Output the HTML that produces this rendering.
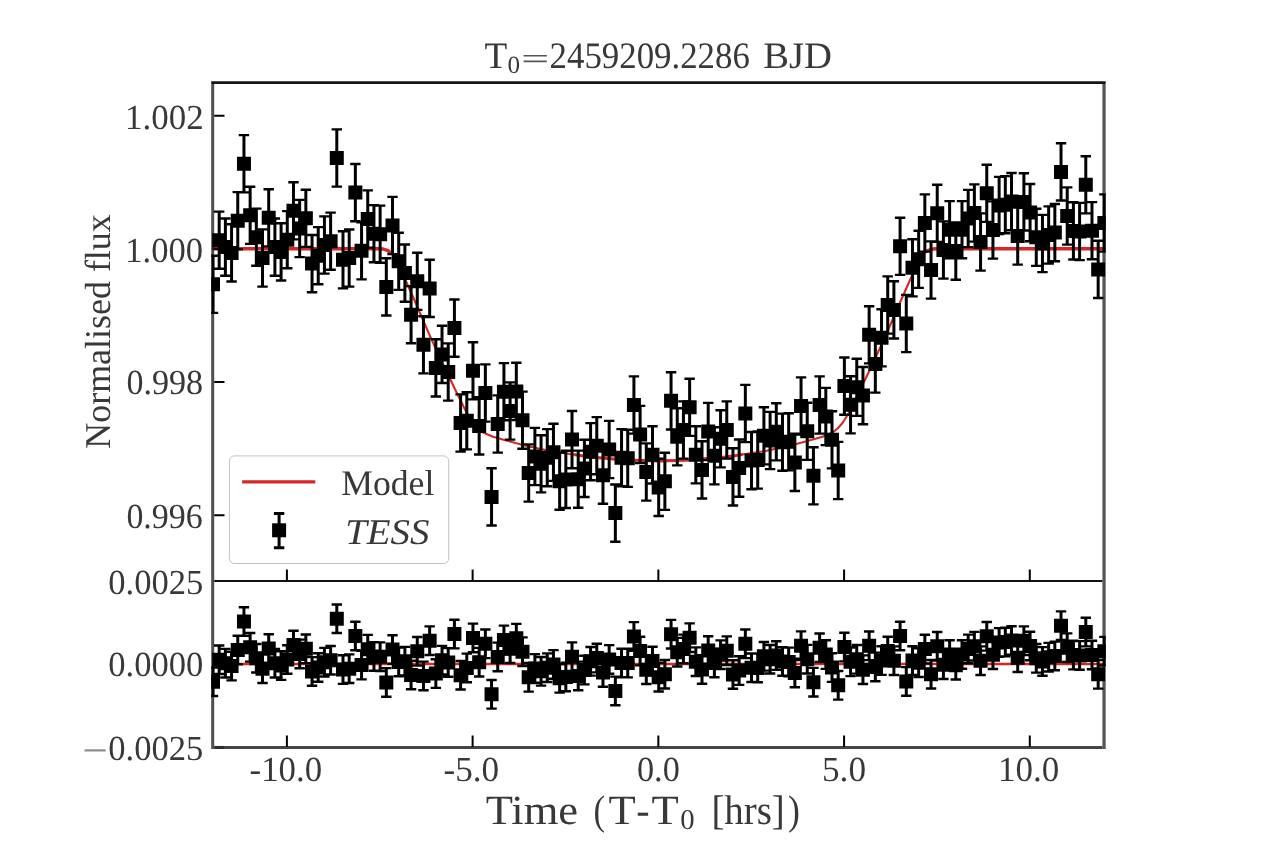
<!DOCTYPE html>
<html><head><meta charset="utf-8"><title>Transit light curve</title>
<style>html,body{margin:0;padding:0;background:#fff;width:1280px;height:852px;overflow:hidden;font-family:"Liberation Serif",serif;-webkit-font-smoothing:antialiased;}
svg text{-webkit-font-smoothing:antialiased;text-rendering:geometricPrecision;}</style>
</head><body>
<svg width="1280" height="852" viewBox="0 0 1280 852" style="position:absolute;left:0;top:0;will-change:transform;">
<defs>
<clipPath id="ct"><rect x="211.2" y="83.0" width="894.5" height="498.0"/></clipPath>
<clipPath id="cb"><rect x="211.2" y="581.0" width="894.5" height="166.0"/></clipPath>
</defs>
<rect width="1280" height="852" fill="#fff"/>
<g clip-path="url(#ct)" fill="none" stroke="#d62728" stroke-linejoin="round" stroke-linecap="round">
<path d="M212.70 248.70 L378.00 248.70 L383.00 249.00 L388.00 250.60 L393.00 255.00 L398.00 264.00 L402.00 272.50 L406.70 282.80 L417.00 306.00 L428.60 332.80 L441.00 360.00 L454.40 388.00 L466.90 413.20 L473.00 423.00 L478.00 428.50 L482.50 432.20 L493.00 436.80 L504.40 440.00 L524.70 445.50 L550.00 451.00 L590.00 457.00 L625.00 460.00 L658.35 461.00 L690.50 460.00 L725.50 457.00 L765.50 451.00 L790.80 445.50 L811.10 440.00 L822.50 436.80 L833.00 432.20 L837.50 428.50 L842.50 423.00 L848.60 413.20 L861.10 388.00 L874.50 360.00 L886.90 332.80 L898.50 306.00 L908.80 282.80 L913.50 272.50 L917.50 264.00 L922.50 255.00 L927.50 250.60 L932.50 249.00 L937.50 248.70 L1104.00 248.70" stroke-width="2.1"/>
<path d="M212.70 248.70 L378.00 248.70 L383.00 249.00 L388.00 250.60 L390.00 252.36" stroke-width="3.4" stroke-linecap="butt"/>
<path d="M926.70 251.30 L927.50 250.60 L932.50 249.00 L937.50 248.70 L1104.00 248.70" stroke-width="3.4" stroke-linecap="butt"/>
<path d="M575.00 454.75 L590.00 457.00 L625.00 460.00 L658.35 461.00 L690.50 460.00 L725.50 457.00 L741.70 454.57" stroke-width="2.9"/>
</g>
<path d="M212.7 664.0H1104.0" stroke="#d62728" stroke-width="2.6" fill="none"/>
<g clip-path="url(#ct)">
<path d="M213.00 255.70V312.90M219.19 211.60V268.80M225.38 218.50V275.70M231.57 224.30V281.50M237.76 192.10V249.30M243.95 135.15V192.35M250.14 186.70V243.90M256.33 208.60V265.80M262.52 229.40V286.60M268.71 189.20V246.40M274.90 218.50V275.70M281.09 223.30V280.50M287.28 211.10V268.30M293.47 182.20V239.40M299.66 199.90V257.10M305.85 189.70V246.90M312.04 235.00V292.20M318.23 227.10V284.30M324.42 216.40V273.60M330.61 212.60V269.80M336.80 129.40V186.60M342.99 231.20V288.40M349.18 229.45V286.65M355.37 164.00V221.20M361.56 222.20V279.40M367.75 190.40V247.60M373.94 205.10V262.30M380.13 205.60V262.80M386.32 258.30V315.50M392.51 196.90V254.10M398.70 232.70V289.90M404.89 244.50V301.70M411.08 286.10V343.30M417.27 252.70V309.90M423.46 316.20V373.40M429.65 259.80V317.00M435.84 339.30V396.50M442.03 325.80V383.00M448.22 343.40V400.60M454.41 299.50V356.70M460.60 394.40V451.60M466.79 392.20V449.40M472.98 342.20V399.40M479.17 397.30V454.50M485.36 364.40V421.60M491.55 468.30V525.50M497.74 395.40V452.60M503.93 363.10V420.30M510.12 382.40V439.60M516.31 362.80V420.00M522.50 391.60V448.80M528.69 444.40V501.60M534.88 427.90V485.10M541.07 435.20V492.40M547.26 429.10V486.30M553.45 423.70V480.90M559.64 452.60V509.80M565.83 450.80V508.00M572.02 411.00V468.20M578.21 450.60V507.80M584.40 439.80V497.00M590.59 423.10V480.30M596.78 417.10V474.30M602.97 446.60V503.80M609.16 420.90V478.10M615.35 484.50V541.70M621.54 429.10V486.30M627.73 429.70V486.90M633.92 376.40V433.60M640.11 405.90V463.10M646.30 443.40V500.60M652.49 426.25V483.45M658.68 458.80V516.00M664.87 452.70V509.90M671.06 372.25V429.45M677.25 408.20V465.40M683.44 401.40V458.60M689.63 378.70V435.90M695.82 426.20V483.40M702.01 441.30V498.50M708.20 402.90V460.10M714.39 427.20V484.40M720.58 410.20V467.40M726.77 401.40V458.60M732.96 448.30V505.50M739.15 439.50V496.70M745.34 384.90V442.10M751.53 432.00V489.20M757.72 431.40V488.60M763.91 407.20V464.40M770.10 411.90V469.10M776.29 403.20V460.40M782.48 413.60V470.80M788.67 413.20V470.40M794.86 433.80V491.00M801.05 377.40V434.60M807.24 402.70V459.90M813.43 447.20V504.40M819.62 376.40V433.60M825.81 387.90V445.10M832.00 411.20V468.40M838.19 441.90V499.10M844.38 357.50V414.70M850.57 376.20V433.40M856.76 358.70V415.90M862.95 367.00V424.20M869.14 306.20V363.40M875.33 335.40V392.60M881.52 309.20V366.40M887.71 276.40V333.60M893.90 281.30V338.50M900.09 217.70V274.90M906.28 294.90V352.10M912.47 239.20V296.40M918.66 230.70V287.90M924.85 194.40V251.60M931.04 241.40V298.60M937.23 184.70V241.90M943.42 221.40V278.60M949.61 201.10V258.30M955.80 222.50V279.70M961.99 201.10V258.30M968.18 189.90V247.10M974.37 184.40V241.60M980.56 213.40V270.60M986.75 164.70V221.90M992.94 201.40V258.60M999.13 176.90V234.10M1005.32 176.10V233.30M1011.51 173.00V230.20M1017.70 207.40V264.60M1023.89 173.30V230.50M1030.08 184.00V241.20M1036.27 208.70V265.90M1042.46 214.90V272.10M1048.65 206.40V263.60M1054.84 204.00V261.20M1061.03 143.30V200.50M1067.22 187.40V244.60M1073.41 202.30V259.50M1079.60 202.90V260.10M1085.79 156.20V213.40M1091.98 202.10V259.30M1098.17 240.80V298.00M1104.36 194.40V251.60" stroke="#000" stroke-width="3.0" fill="none"/>
<path d="M207.80 255.70h10.4M207.80 312.90h10.4M213.99 211.60h10.4M213.99 268.80h10.4M220.18 218.50h10.4M220.18 275.70h10.4M226.37 224.30h10.4M226.37 281.50h10.4M232.56 192.10h10.4M232.56 249.30h10.4M238.75 135.15h10.4M238.75 192.35h10.4M244.94 186.70h10.4M244.94 243.90h10.4M251.13 208.60h10.4M251.13 265.80h10.4M257.32 229.40h10.4M257.32 286.60h10.4M263.51 189.20h10.4M263.51 246.40h10.4M269.70 218.50h10.4M269.70 275.70h10.4M275.89 223.30h10.4M275.89 280.50h10.4M282.08 211.10h10.4M282.08 268.30h10.4M288.27 182.20h10.4M288.27 239.40h10.4M294.46 199.90h10.4M294.46 257.10h10.4M300.65 189.70h10.4M300.65 246.90h10.4M306.84 235.00h10.4M306.84 292.20h10.4M313.03 227.10h10.4M313.03 284.30h10.4M319.22 216.40h10.4M319.22 273.60h10.4M325.41 212.60h10.4M325.41 269.80h10.4M331.60 129.40h10.4M331.60 186.60h10.4M337.79 231.20h10.4M337.79 288.40h10.4M343.98 229.45h10.4M343.98 286.65h10.4M350.17 164.00h10.4M350.17 221.20h10.4M356.36 222.20h10.4M356.36 279.40h10.4M362.55 190.40h10.4M362.55 247.60h10.4M368.74 205.10h10.4M368.74 262.30h10.4M374.93 205.60h10.4M374.93 262.80h10.4M381.12 258.30h10.4M381.12 315.50h10.4M387.31 196.90h10.4M387.31 254.10h10.4M393.50 232.70h10.4M393.50 289.90h10.4M399.69 244.50h10.4M399.69 301.70h10.4M405.88 286.10h10.4M405.88 343.30h10.4M412.07 252.70h10.4M412.07 309.90h10.4M418.26 316.20h10.4M418.26 373.40h10.4M424.45 259.80h10.4M424.45 317.00h10.4M430.64 339.30h10.4M430.64 396.50h10.4M436.83 325.80h10.4M436.83 383.00h10.4M443.02 343.40h10.4M443.02 400.60h10.4M449.21 299.50h10.4M449.21 356.70h10.4M455.40 394.40h10.4M455.40 451.60h10.4M461.59 392.20h10.4M461.59 449.40h10.4M467.78 342.20h10.4M467.78 399.40h10.4M473.97 397.30h10.4M473.97 454.50h10.4M480.16 364.40h10.4M480.16 421.60h10.4M486.35 468.30h10.4M486.35 525.50h10.4M492.54 395.40h10.4M492.54 452.60h10.4M498.73 363.10h10.4M498.73 420.30h10.4M504.92 382.40h10.4M504.92 439.60h10.4M511.11 362.80h10.4M511.11 420.00h10.4M517.30 391.60h10.4M517.30 448.80h10.4M523.49 444.40h10.4M523.49 501.60h10.4M529.68 427.90h10.4M529.68 485.10h10.4M535.87 435.20h10.4M535.87 492.40h10.4M542.06 429.10h10.4M542.06 486.30h10.4M548.25 423.70h10.4M548.25 480.90h10.4M554.44 452.60h10.4M554.44 509.80h10.4M560.63 450.80h10.4M560.63 508.00h10.4M566.82 411.00h10.4M566.82 468.20h10.4M573.01 450.60h10.4M573.01 507.80h10.4M579.20 439.80h10.4M579.20 497.00h10.4M585.39 423.10h10.4M585.39 480.30h10.4M591.58 417.10h10.4M591.58 474.30h10.4M597.77 446.60h10.4M597.77 503.80h10.4M603.96 420.90h10.4M603.96 478.10h10.4M610.15 484.50h10.4M610.15 541.70h10.4M616.34 429.10h10.4M616.34 486.30h10.4M622.53 429.70h10.4M622.53 486.90h10.4M628.72 376.40h10.4M628.72 433.60h10.4M634.91 405.90h10.4M634.91 463.10h10.4M641.10 443.40h10.4M641.10 500.60h10.4M647.29 426.25h10.4M647.29 483.45h10.4M653.48 458.80h10.4M653.48 516.00h10.4M659.67 452.70h10.4M659.67 509.90h10.4M665.86 372.25h10.4M665.86 429.45h10.4M672.05 408.20h10.4M672.05 465.40h10.4M678.24 401.40h10.4M678.24 458.60h10.4M684.43 378.70h10.4M684.43 435.90h10.4M690.62 426.20h10.4M690.62 483.40h10.4M696.81 441.30h10.4M696.81 498.50h10.4M703.00 402.90h10.4M703.00 460.10h10.4M709.19 427.20h10.4M709.19 484.40h10.4M715.38 410.20h10.4M715.38 467.40h10.4M721.57 401.40h10.4M721.57 458.60h10.4M727.76 448.30h10.4M727.76 505.50h10.4M733.95 439.50h10.4M733.95 496.70h10.4M740.14 384.90h10.4M740.14 442.10h10.4M746.33 432.00h10.4M746.33 489.20h10.4M752.52 431.40h10.4M752.52 488.60h10.4M758.71 407.20h10.4M758.71 464.40h10.4M764.90 411.90h10.4M764.90 469.10h10.4M771.09 403.20h10.4M771.09 460.40h10.4M777.28 413.60h10.4M777.28 470.80h10.4M783.47 413.20h10.4M783.47 470.40h10.4M789.66 433.80h10.4M789.66 491.00h10.4M795.85 377.40h10.4M795.85 434.60h10.4M802.04 402.70h10.4M802.04 459.90h10.4M808.23 447.20h10.4M808.23 504.40h10.4M814.42 376.40h10.4M814.42 433.60h10.4M820.61 387.90h10.4M820.61 445.10h10.4M826.80 411.20h10.4M826.80 468.40h10.4M832.99 441.90h10.4M832.99 499.10h10.4M839.18 357.50h10.4M839.18 414.70h10.4M845.37 376.20h10.4M845.37 433.40h10.4M851.56 358.70h10.4M851.56 415.90h10.4M857.75 367.00h10.4M857.75 424.20h10.4M863.94 306.20h10.4M863.94 363.40h10.4M870.13 335.40h10.4M870.13 392.60h10.4M876.32 309.20h10.4M876.32 366.40h10.4M882.51 276.40h10.4M882.51 333.60h10.4M888.70 281.30h10.4M888.70 338.50h10.4M894.89 217.70h10.4M894.89 274.90h10.4M901.08 294.90h10.4M901.08 352.10h10.4M907.27 239.20h10.4M907.27 296.40h10.4M913.46 230.70h10.4M913.46 287.90h10.4M919.65 194.40h10.4M919.65 251.60h10.4M925.84 241.40h10.4M925.84 298.60h10.4M932.03 184.70h10.4M932.03 241.90h10.4M938.22 221.40h10.4M938.22 278.60h10.4M944.41 201.10h10.4M944.41 258.30h10.4M950.60 222.50h10.4M950.60 279.70h10.4M956.79 201.10h10.4M956.79 258.30h10.4M962.98 189.90h10.4M962.98 247.10h10.4M969.17 184.40h10.4M969.17 241.60h10.4M975.36 213.40h10.4M975.36 270.60h10.4M981.55 164.70h10.4M981.55 221.90h10.4M987.74 201.40h10.4M987.74 258.60h10.4M993.93 176.90h10.4M993.93 234.10h10.4M1000.12 176.10h10.4M1000.12 233.30h10.4M1006.31 173.00h10.4M1006.31 230.20h10.4M1012.50 207.40h10.4M1012.50 264.60h10.4M1018.69 173.30h10.4M1018.69 230.50h10.4M1024.88 184.00h10.4M1024.88 241.20h10.4M1031.07 208.70h10.4M1031.07 265.90h10.4M1037.26 214.90h10.4M1037.26 272.10h10.4M1043.45 206.40h10.4M1043.45 263.60h10.4M1049.64 204.00h10.4M1049.64 261.20h10.4M1055.83 143.30h10.4M1055.83 200.50h10.4M1062.02 187.40h10.4M1062.02 244.60h10.4M1068.21 202.30h10.4M1068.21 259.50h10.4M1074.40 202.90h10.4M1074.40 260.10h10.4M1080.59 156.20h10.4M1080.59 213.40h10.4M1086.78 202.10h10.4M1086.78 259.30h10.4M1092.97 240.80h10.4M1092.97 298.00h10.4M1099.16 194.40h10.4M1099.16 251.60h10.4" stroke="#000" stroke-width="2.4" fill="none"/>
<path d="M206.00 277.30h14.0v14.0h-14.0zM212.19 233.20h14.0v14.0h-14.0zM218.38 240.10h14.0v14.0h-14.0zM224.57 245.90h14.0v14.0h-14.0zM230.76 213.70h14.0v14.0h-14.0zM236.95 156.75h14.0v14.0h-14.0zM243.14 208.30h14.0v14.0h-14.0zM249.33 230.20h14.0v14.0h-14.0zM255.52 251.00h14.0v14.0h-14.0zM261.71 210.80h14.0v14.0h-14.0zM267.90 240.10h14.0v14.0h-14.0zM274.09 244.90h14.0v14.0h-14.0zM280.28 232.70h14.0v14.0h-14.0zM286.47 203.80h14.0v14.0h-14.0zM292.66 221.50h14.0v14.0h-14.0zM298.85 211.30h14.0v14.0h-14.0zM305.04 256.60h14.0v14.0h-14.0zM311.23 248.70h14.0v14.0h-14.0zM317.42 238.00h14.0v14.0h-14.0zM323.61 234.20h14.0v14.0h-14.0zM329.80 151.00h14.0v14.0h-14.0zM335.99 252.80h14.0v14.0h-14.0zM342.18 251.05h14.0v14.0h-14.0zM348.37 185.60h14.0v14.0h-14.0zM354.56 243.80h14.0v14.0h-14.0zM360.75 212.00h14.0v14.0h-14.0zM366.94 226.70h14.0v14.0h-14.0zM373.13 227.20h14.0v14.0h-14.0zM379.32 279.90h14.0v14.0h-14.0zM385.51 218.50h14.0v14.0h-14.0zM391.70 254.30h14.0v14.0h-14.0zM397.89 266.10h14.0v14.0h-14.0zM404.08 307.70h14.0v14.0h-14.0zM410.27 274.30h14.0v14.0h-14.0zM416.46 337.80h14.0v14.0h-14.0zM422.65 281.40h14.0v14.0h-14.0zM428.84 360.90h14.0v14.0h-14.0zM435.03 347.40h14.0v14.0h-14.0zM441.22 365.00h14.0v14.0h-14.0zM447.41 321.10h14.0v14.0h-14.0zM453.60 416.00h14.0v14.0h-14.0zM459.79 413.80h14.0v14.0h-14.0zM465.98 363.80h14.0v14.0h-14.0zM472.17 418.90h14.0v14.0h-14.0zM478.36 386.00h14.0v14.0h-14.0zM484.55 489.90h14.0v14.0h-14.0zM490.74 417.00h14.0v14.0h-14.0zM496.93 384.70h14.0v14.0h-14.0zM503.12 404.00h14.0v14.0h-14.0zM509.31 384.40h14.0v14.0h-14.0zM515.50 413.20h14.0v14.0h-14.0zM521.69 466.00h14.0v14.0h-14.0zM527.88 449.50h14.0v14.0h-14.0zM534.07 456.80h14.0v14.0h-14.0zM540.26 450.70h14.0v14.0h-14.0zM546.45 445.30h14.0v14.0h-14.0zM552.64 474.20h14.0v14.0h-14.0zM558.83 472.40h14.0v14.0h-14.0zM565.02 432.60h14.0v14.0h-14.0zM571.21 472.20h14.0v14.0h-14.0zM577.40 461.40h14.0v14.0h-14.0zM583.59 444.70h14.0v14.0h-14.0zM589.78 438.70h14.0v14.0h-14.0zM595.97 468.20h14.0v14.0h-14.0zM602.16 442.50h14.0v14.0h-14.0zM608.35 506.10h14.0v14.0h-14.0zM614.54 450.70h14.0v14.0h-14.0zM620.73 451.30h14.0v14.0h-14.0zM626.92 398.00h14.0v14.0h-14.0zM633.11 427.50h14.0v14.0h-14.0zM639.30 465.00h14.0v14.0h-14.0zM645.49 447.85h14.0v14.0h-14.0zM651.68 480.40h14.0v14.0h-14.0zM657.87 474.30h14.0v14.0h-14.0zM664.06 393.85h14.0v14.0h-14.0zM670.25 429.80h14.0v14.0h-14.0zM676.44 423.00h14.0v14.0h-14.0zM682.63 400.30h14.0v14.0h-14.0zM688.82 447.80h14.0v14.0h-14.0zM695.01 462.90h14.0v14.0h-14.0zM701.20 424.50h14.0v14.0h-14.0zM707.39 448.80h14.0v14.0h-14.0zM713.58 431.80h14.0v14.0h-14.0zM719.77 423.00h14.0v14.0h-14.0zM725.96 469.90h14.0v14.0h-14.0zM732.15 461.10h14.0v14.0h-14.0zM738.34 406.50h14.0v14.0h-14.0zM744.53 453.60h14.0v14.0h-14.0zM750.72 453.00h14.0v14.0h-14.0zM756.91 428.80h14.0v14.0h-14.0zM763.10 433.50h14.0v14.0h-14.0zM769.29 424.80h14.0v14.0h-14.0zM775.48 435.20h14.0v14.0h-14.0zM781.67 434.80h14.0v14.0h-14.0zM787.86 455.40h14.0v14.0h-14.0zM794.05 399.00h14.0v14.0h-14.0zM800.24 424.30h14.0v14.0h-14.0zM806.43 468.80h14.0v14.0h-14.0zM812.62 398.00h14.0v14.0h-14.0zM818.81 409.50h14.0v14.0h-14.0zM825.00 432.80h14.0v14.0h-14.0zM831.19 463.50h14.0v14.0h-14.0zM837.38 379.10h14.0v14.0h-14.0zM843.57 397.80h14.0v14.0h-14.0zM849.76 380.30h14.0v14.0h-14.0zM855.95 388.60h14.0v14.0h-14.0zM862.14 327.80h14.0v14.0h-14.0zM868.33 357.00h14.0v14.0h-14.0zM874.52 330.80h14.0v14.0h-14.0zM880.71 298.00h14.0v14.0h-14.0zM886.90 302.90h14.0v14.0h-14.0zM893.09 239.30h14.0v14.0h-14.0zM899.28 316.50h14.0v14.0h-14.0zM905.47 260.80h14.0v14.0h-14.0zM911.66 252.30h14.0v14.0h-14.0zM917.85 216.00h14.0v14.0h-14.0zM924.04 263.00h14.0v14.0h-14.0zM930.23 206.30h14.0v14.0h-14.0zM936.42 243.00h14.0v14.0h-14.0zM942.61 222.70h14.0v14.0h-14.0zM948.80 244.10h14.0v14.0h-14.0zM954.99 222.70h14.0v14.0h-14.0zM961.18 211.50h14.0v14.0h-14.0zM967.37 206.00h14.0v14.0h-14.0zM973.56 235.00h14.0v14.0h-14.0zM979.75 186.30h14.0v14.0h-14.0zM985.94 223.00h14.0v14.0h-14.0zM992.13 198.50h14.0v14.0h-14.0zM998.32 197.70h14.0v14.0h-14.0zM1004.51 194.60h14.0v14.0h-14.0zM1010.70 229.00h14.0v14.0h-14.0zM1016.89 194.90h14.0v14.0h-14.0zM1023.08 205.60h14.0v14.0h-14.0zM1029.27 230.30h14.0v14.0h-14.0zM1035.46 236.50h14.0v14.0h-14.0zM1041.65 228.00h14.0v14.0h-14.0zM1047.84 225.60h14.0v14.0h-14.0zM1054.03 164.90h14.0v14.0h-14.0zM1060.22 209.00h14.0v14.0h-14.0zM1066.41 223.90h14.0v14.0h-14.0zM1072.60 224.50h14.0v14.0h-14.0zM1078.79 177.80h14.0v14.0h-14.0zM1084.98 223.70h14.0v14.0h-14.0zM1091.17 262.40h14.0v14.0h-14.0zM1097.36 216.00h14.0v14.0h-14.0z" fill="#000"/>
</g>
<g clip-path="url(#cb)">
<path d="M213.00 667.46V696.06M219.19 645.46V674.06M225.38 648.90V677.50M231.57 651.80V680.40M237.76 635.73V664.33M243.95 607.32V635.92M250.14 633.04V661.64M256.33 643.96V672.56M262.52 654.34V682.94M268.71 634.28V662.88M274.90 648.90V677.50M281.09 651.30V679.90M287.28 645.21V673.81M293.47 630.79V659.39M299.66 639.62V668.22M305.85 634.53V663.13M312.04 657.13V685.73M318.23 653.19V681.79M324.42 647.85V676.45M330.61 645.96V674.56M336.80 604.45V633.05M342.99 655.24V683.84M349.18 654.36V682.96M355.37 621.71V650.31M361.56 650.75V679.35M367.75 634.88V663.48M373.94 642.22V670.82M380.13 642.40V671.00M386.32 668.08V696.68M392.51 635.20V663.80M398.70 647.61V676.21M404.89 646.84V675.44M411.08 660.69V689.29M417.27 637.07V665.67M423.46 661.61V690.21M429.65 626.40V655.00M435.84 659.29V687.89M442.03 645.83V674.43M448.22 648.16V676.76M454.41 619.81V648.41M460.60 660.93V689.53M466.79 653.60V682.20M472.98 623.67V652.27M479.17 647.92V676.52M485.36 629.52V658.12M491.55 680.00V708.60M497.74 642.65V671.25M503.93 625.67V654.27M510.12 634.46V663.06M516.31 623.84V652.44M522.50 637.38V665.98M528.69 662.99V691.59M534.88 654.08V682.68M541.07 657.05V685.65M547.26 653.34V681.94M553.45 650.09V678.69M559.64 664.04V692.64M565.83 662.68V691.28M572.02 642.37V670.97M578.21 661.66V690.26M584.40 655.81V684.41M590.59 647.03V675.63M596.78 643.77V672.37M602.97 658.22V686.82M609.16 645.14V673.74M615.35 676.60V705.20M621.54 648.70V677.30M627.73 648.81V677.41M633.92 622.13V650.73M640.11 636.75V665.35M646.30 655.37V683.97M652.49 646.72V675.32M658.68 662.88V691.48M664.87 659.93V688.53M671.06 619.89V648.49M677.25 637.92V666.52M683.44 634.62V663.22M689.63 623.40V652.00M695.82 647.33V675.93M702.01 655.13V683.73M708.20 636.24V664.84M714.39 648.63V677.23M720.58 640.41V669.01M726.77 636.33V664.93M732.96 660.19V688.79M739.15 656.26V684.86M745.34 629.48V658.08M751.53 653.44V682.04M757.72 653.61V682.21M763.91 642.00V670.60M770.10 644.96V673.56M776.29 641.29V669.89M782.48 647.15V675.75M788.67 647.62V676.22M794.86 658.68V687.28M801.05 631.38V659.98M807.24 644.84V673.44M813.43 667.89V696.49M819.62 633.43V662.03M825.81 640.30V668.90M832.00 653.27V681.87M838.19 671.03V699.63M844.38 632.80V661.40M850.57 647.49V676.09M856.76 644.99V673.59M862.95 655.42V684.02M869.14 631.54V660.14M875.33 652.60V681.20M881.52 646.31V674.91M887.71 636.76V665.36M893.90 646.34V674.94M900.09 621.70V650.30M906.28 667.17V695.77M912.47 646.23V674.83M918.66 648.40V677.00M924.85 634.77V663.37M931.04 659.94V688.54M937.23 632.03V660.63M943.42 650.35V678.95M949.61 640.22V668.82M955.80 650.90V679.50M961.99 640.22V668.82M968.18 634.63V663.23M974.37 631.89V660.49M980.56 646.36V674.96M986.75 622.06V650.66M992.94 640.37V668.97M999.13 628.15V656.75M1005.32 627.75V656.35M1011.51 626.20V654.80M1017.70 643.36V671.96M1023.89 626.35V654.95M1030.08 631.69V660.29M1036.27 644.01V672.61M1042.46 647.11V675.71M1048.65 642.87V671.47M1054.84 641.67V670.27M1061.03 611.39V639.99M1067.22 633.39V661.99M1073.41 640.82V669.42M1079.60 641.12V669.72M1085.79 617.82V646.42M1091.98 640.72V669.32M1098.17 660.03V688.63M1104.36 636.88V665.48" stroke="#000" stroke-width="3.0" fill="none"/>
<path d="M207.80 667.46h10.4M207.80 696.06h10.4M213.99 645.46h10.4M213.99 674.06h10.4M220.18 648.90h10.4M220.18 677.50h10.4M226.37 651.80h10.4M226.37 680.40h10.4M232.56 635.73h10.4M232.56 664.33h10.4M238.75 607.32h10.4M238.75 635.92h10.4M244.94 633.04h10.4M244.94 661.64h10.4M251.13 643.96h10.4M251.13 672.56h10.4M257.32 654.34h10.4M257.32 682.94h10.4M263.51 634.28h10.4M263.51 662.88h10.4M269.70 648.90h10.4M269.70 677.50h10.4M275.89 651.30h10.4M275.89 679.90h10.4M282.08 645.21h10.4M282.08 673.81h10.4M288.27 630.79h10.4M288.27 659.39h10.4M294.46 639.62h10.4M294.46 668.22h10.4M300.65 634.53h10.4M300.65 663.13h10.4M306.84 657.13h10.4M306.84 685.73h10.4M313.03 653.19h10.4M313.03 681.79h10.4M319.22 647.85h10.4M319.22 676.45h10.4M325.41 645.96h10.4M325.41 674.56h10.4M331.60 604.45h10.4M331.60 633.05h10.4M337.79 655.24h10.4M337.79 683.84h10.4M343.98 654.36h10.4M343.98 682.96h10.4M350.17 621.71h10.4M350.17 650.31h10.4M356.36 650.75h10.4M356.36 679.35h10.4M362.55 634.88h10.4M362.55 663.48h10.4M368.74 642.22h10.4M368.74 670.82h10.4M374.93 642.40h10.4M374.93 671.00h10.4M381.12 668.08h10.4M381.12 696.68h10.4M387.31 635.20h10.4M387.31 663.80h10.4M393.50 647.61h10.4M393.50 676.21h10.4M399.69 646.84h10.4M399.69 675.44h10.4M405.88 660.69h10.4M405.88 689.29h10.4M412.07 637.07h10.4M412.07 665.67h10.4M418.26 661.61h10.4M418.26 690.21h10.4M424.45 626.40h10.4M424.45 655.00h10.4M430.64 659.29h10.4M430.64 687.89h10.4M436.83 645.83h10.4M436.83 674.43h10.4M443.02 648.16h10.4M443.02 676.76h10.4M449.21 619.81h10.4M449.21 648.41h10.4M455.40 660.93h10.4M455.40 689.53h10.4M461.59 653.60h10.4M461.59 682.20h10.4M467.78 623.67h10.4M467.78 652.27h10.4M473.97 647.92h10.4M473.97 676.52h10.4M480.16 629.52h10.4M480.16 658.12h10.4M486.35 680.00h10.4M486.35 708.60h10.4M492.54 642.65h10.4M492.54 671.25h10.4M498.73 625.67h10.4M498.73 654.27h10.4M504.92 634.46h10.4M504.92 663.06h10.4M511.11 623.84h10.4M511.11 652.44h10.4M517.30 637.38h10.4M517.30 665.98h10.4M523.49 662.99h10.4M523.49 691.59h10.4M529.68 654.08h10.4M529.68 682.68h10.4M535.87 657.05h10.4M535.87 685.65h10.4M542.06 653.34h10.4M542.06 681.94h10.4M548.25 650.09h10.4M548.25 678.69h10.4M554.44 664.04h10.4M554.44 692.64h10.4M560.63 662.68h10.4M560.63 691.28h10.4M566.82 642.37h10.4M566.82 670.97h10.4M573.01 661.66h10.4M573.01 690.26h10.4M579.20 655.81h10.4M579.20 684.41h10.4M585.39 647.03h10.4M585.39 675.63h10.4M591.58 643.77h10.4M591.58 672.37h10.4M597.77 658.22h10.4M597.77 686.82h10.4M603.96 645.14h10.4M603.96 673.74h10.4M610.15 676.60h10.4M610.15 705.20h10.4M616.34 648.70h10.4M616.34 677.30h10.4M622.53 648.81h10.4M622.53 677.41h10.4M628.72 622.13h10.4M628.72 650.73h10.4M634.91 636.75h10.4M634.91 665.35h10.4M641.10 655.37h10.4M641.10 683.97h10.4M647.29 646.72h10.4M647.29 675.32h10.4M653.48 662.88h10.4M653.48 691.48h10.4M659.67 659.93h10.4M659.67 688.53h10.4M665.86 619.89h10.4M665.86 648.49h10.4M672.05 637.92h10.4M672.05 666.52h10.4M678.24 634.62h10.4M678.24 663.22h10.4M684.43 623.40h10.4M684.43 652.00h10.4M690.62 647.33h10.4M690.62 675.93h10.4M696.81 655.13h10.4M696.81 683.73h10.4M703.00 636.24h10.4M703.00 664.84h10.4M709.19 648.63h10.4M709.19 677.23h10.4M715.38 640.41h10.4M715.38 669.01h10.4M721.57 636.33h10.4M721.57 664.93h10.4M727.76 660.19h10.4M727.76 688.79h10.4M733.95 656.26h10.4M733.95 684.86h10.4M740.14 629.48h10.4M740.14 658.08h10.4M746.33 653.44h10.4M746.33 682.04h10.4M752.52 653.61h10.4M752.52 682.21h10.4M758.71 642.00h10.4M758.71 670.60h10.4M764.90 644.96h10.4M764.90 673.56h10.4M771.09 641.29h10.4M771.09 669.89h10.4M777.28 647.15h10.4M777.28 675.75h10.4M783.47 647.62h10.4M783.47 676.22h10.4M789.66 658.68h10.4M789.66 687.28h10.4M795.85 631.38h10.4M795.85 659.98h10.4M802.04 644.84h10.4M802.04 673.44h10.4M808.23 667.89h10.4M808.23 696.49h10.4M814.42 633.43h10.4M814.42 662.03h10.4M820.61 640.30h10.4M820.61 668.90h10.4M826.80 653.27h10.4M826.80 681.87h10.4M832.99 671.03h10.4M832.99 699.63h10.4M839.18 632.80h10.4M839.18 661.40h10.4M845.37 647.49h10.4M845.37 676.09h10.4M851.56 644.99h10.4M851.56 673.59h10.4M857.75 655.42h10.4M857.75 684.02h10.4M863.94 631.54h10.4M863.94 660.14h10.4M870.13 652.60h10.4M870.13 681.20h10.4M876.32 646.31h10.4M876.32 674.91h10.4M882.51 636.76h10.4M882.51 665.36h10.4M888.70 646.34h10.4M888.70 674.94h10.4M894.89 621.70h10.4M894.89 650.30h10.4M901.08 667.17h10.4M901.08 695.77h10.4M907.27 646.23h10.4M907.27 674.83h10.4M913.46 648.40h10.4M913.46 677.00h10.4M919.65 634.77h10.4M919.65 663.37h10.4M925.84 659.94h10.4M925.84 688.54h10.4M932.03 632.03h10.4M932.03 660.63h10.4M938.22 650.35h10.4M938.22 678.95h10.4M944.41 640.22h10.4M944.41 668.82h10.4M950.60 650.90h10.4M950.60 679.50h10.4M956.79 640.22h10.4M956.79 668.82h10.4M962.98 634.63h10.4M962.98 663.23h10.4M969.17 631.89h10.4M969.17 660.49h10.4M975.36 646.36h10.4M975.36 674.96h10.4M981.55 622.06h10.4M981.55 650.66h10.4M987.74 640.37h10.4M987.74 668.97h10.4M993.93 628.15h10.4M993.93 656.75h10.4M1000.12 627.75h10.4M1000.12 656.35h10.4M1006.31 626.20h10.4M1006.31 654.80h10.4M1012.50 643.36h10.4M1012.50 671.96h10.4M1018.69 626.35h10.4M1018.69 654.95h10.4M1024.88 631.69h10.4M1024.88 660.29h10.4M1031.07 644.01h10.4M1031.07 672.61h10.4M1037.26 647.11h10.4M1037.26 675.71h10.4M1043.45 642.87h10.4M1043.45 671.47h10.4M1049.64 641.67h10.4M1049.64 670.27h10.4M1055.83 611.39h10.4M1055.83 639.99h10.4M1062.02 633.39h10.4M1062.02 661.99h10.4M1068.21 640.82h10.4M1068.21 669.42h10.4M1074.40 641.12h10.4M1074.40 669.72h10.4M1080.59 617.82h10.4M1080.59 646.42h10.4M1086.78 640.72h10.4M1086.78 669.32h10.4M1092.97 660.03h10.4M1092.97 688.63h10.4M1099.16 636.88h10.4M1099.16 665.48h10.4" stroke="#000" stroke-width="2.4" fill="none"/>
<path d="M206.00 674.76h14.0v14.0h-14.0zM212.19 652.76h14.0v14.0h-14.0zM218.38 656.20h14.0v14.0h-14.0zM224.57 659.10h14.0v14.0h-14.0zM230.76 643.03h14.0v14.0h-14.0zM236.95 614.62h14.0v14.0h-14.0zM243.14 640.34h14.0v14.0h-14.0zM249.33 651.26h14.0v14.0h-14.0zM255.52 661.64h14.0v14.0h-14.0zM261.71 641.58h14.0v14.0h-14.0zM267.90 656.20h14.0v14.0h-14.0zM274.09 658.60h14.0v14.0h-14.0zM280.28 652.51h14.0v14.0h-14.0zM286.47 638.09h14.0v14.0h-14.0zM292.66 646.92h14.0v14.0h-14.0zM298.85 641.83h14.0v14.0h-14.0zM305.04 664.43h14.0v14.0h-14.0zM311.23 660.49h14.0v14.0h-14.0zM317.42 655.15h14.0v14.0h-14.0zM323.61 653.26h14.0v14.0h-14.0zM329.80 611.75h14.0v14.0h-14.0zM335.99 662.54h14.0v14.0h-14.0zM342.18 661.66h14.0v14.0h-14.0zM348.37 629.01h14.0v14.0h-14.0zM354.56 658.05h14.0v14.0h-14.0zM360.75 642.18h14.0v14.0h-14.0zM366.94 649.52h14.0v14.0h-14.0zM373.13 649.70h14.0v14.0h-14.0zM379.32 675.38h14.0v14.0h-14.0zM385.51 642.50h14.0v14.0h-14.0zM391.70 654.91h14.0v14.0h-14.0zM397.89 654.14h14.0v14.0h-14.0zM404.08 667.99h14.0v14.0h-14.0zM410.27 644.37h14.0v14.0h-14.0zM416.46 668.91h14.0v14.0h-14.0zM422.65 633.70h14.0v14.0h-14.0zM428.84 666.59h14.0v14.0h-14.0zM435.03 653.13h14.0v14.0h-14.0zM441.22 655.46h14.0v14.0h-14.0zM447.41 627.11h14.0v14.0h-14.0zM453.60 668.23h14.0v14.0h-14.0zM459.79 660.90h14.0v14.0h-14.0zM465.98 630.97h14.0v14.0h-14.0zM472.17 655.22h14.0v14.0h-14.0zM478.36 636.82h14.0v14.0h-14.0zM484.55 687.30h14.0v14.0h-14.0zM490.74 649.95h14.0v14.0h-14.0zM496.93 632.97h14.0v14.0h-14.0zM503.12 641.76h14.0v14.0h-14.0zM509.31 631.14h14.0v14.0h-14.0zM515.50 644.68h14.0v14.0h-14.0zM521.69 670.29h14.0v14.0h-14.0zM527.88 661.38h14.0v14.0h-14.0zM534.07 664.35h14.0v14.0h-14.0zM540.26 660.64h14.0v14.0h-14.0zM546.45 657.39h14.0v14.0h-14.0zM552.64 671.34h14.0v14.0h-14.0zM558.83 669.98h14.0v14.0h-14.0zM565.02 649.67h14.0v14.0h-14.0zM571.21 668.96h14.0v14.0h-14.0zM577.40 663.11h14.0v14.0h-14.0zM583.59 654.33h14.0v14.0h-14.0zM589.78 651.07h14.0v14.0h-14.0zM595.97 665.52h14.0v14.0h-14.0zM602.16 652.44h14.0v14.0h-14.0zM608.35 683.90h14.0v14.0h-14.0zM614.54 656.00h14.0v14.0h-14.0zM620.73 656.11h14.0v14.0h-14.0zM626.92 629.43h14.0v14.0h-14.0zM633.11 644.05h14.0v14.0h-14.0zM639.30 662.67h14.0v14.0h-14.0zM645.49 654.02h14.0v14.0h-14.0zM651.68 670.18h14.0v14.0h-14.0zM657.87 667.23h14.0v14.0h-14.0zM664.06 627.19h14.0v14.0h-14.0zM670.25 645.22h14.0v14.0h-14.0zM676.44 641.92h14.0v14.0h-14.0zM682.63 630.70h14.0v14.0h-14.0zM688.82 654.63h14.0v14.0h-14.0zM695.01 662.43h14.0v14.0h-14.0zM701.20 643.54h14.0v14.0h-14.0zM707.39 655.93h14.0v14.0h-14.0zM713.58 647.71h14.0v14.0h-14.0zM719.77 643.63h14.0v14.0h-14.0zM725.96 667.49h14.0v14.0h-14.0zM732.15 663.56h14.0v14.0h-14.0zM738.34 636.78h14.0v14.0h-14.0zM744.53 660.74h14.0v14.0h-14.0zM750.72 660.91h14.0v14.0h-14.0zM756.91 649.30h14.0v14.0h-14.0zM763.10 652.26h14.0v14.0h-14.0zM769.29 648.59h14.0v14.0h-14.0zM775.48 654.45h14.0v14.0h-14.0zM781.67 654.92h14.0v14.0h-14.0zM787.86 665.98h14.0v14.0h-14.0zM794.05 638.68h14.0v14.0h-14.0zM800.24 652.14h14.0v14.0h-14.0zM806.43 675.19h14.0v14.0h-14.0zM812.62 640.73h14.0v14.0h-14.0zM818.81 647.60h14.0v14.0h-14.0zM825.00 660.57h14.0v14.0h-14.0zM831.19 678.33h14.0v14.0h-14.0zM837.38 640.10h14.0v14.0h-14.0zM843.57 654.79h14.0v14.0h-14.0zM849.76 652.29h14.0v14.0h-14.0zM855.95 662.72h14.0v14.0h-14.0zM862.14 638.84h14.0v14.0h-14.0zM868.33 659.90h14.0v14.0h-14.0zM874.52 653.61h14.0v14.0h-14.0zM880.71 644.06h14.0v14.0h-14.0zM886.90 653.64h14.0v14.0h-14.0zM893.09 629.00h14.0v14.0h-14.0zM899.28 674.47h14.0v14.0h-14.0zM905.47 653.53h14.0v14.0h-14.0zM911.66 655.70h14.0v14.0h-14.0zM917.85 642.07h14.0v14.0h-14.0zM924.04 667.24h14.0v14.0h-14.0zM930.23 639.33h14.0v14.0h-14.0zM936.42 657.65h14.0v14.0h-14.0zM942.61 647.52h14.0v14.0h-14.0zM948.80 658.20h14.0v14.0h-14.0zM954.99 647.52h14.0v14.0h-14.0zM961.18 641.93h14.0v14.0h-14.0zM967.37 639.19h14.0v14.0h-14.0zM973.56 653.66h14.0v14.0h-14.0zM979.75 629.36h14.0v14.0h-14.0zM985.94 647.67h14.0v14.0h-14.0zM992.13 635.45h14.0v14.0h-14.0zM998.32 635.05h14.0v14.0h-14.0zM1004.51 633.50h14.0v14.0h-14.0zM1010.70 650.66h14.0v14.0h-14.0zM1016.89 633.65h14.0v14.0h-14.0zM1023.08 638.99h14.0v14.0h-14.0zM1029.27 651.31h14.0v14.0h-14.0zM1035.46 654.41h14.0v14.0h-14.0zM1041.65 650.17h14.0v14.0h-14.0zM1047.84 648.97h14.0v14.0h-14.0zM1054.03 618.69h14.0v14.0h-14.0zM1060.22 640.69h14.0v14.0h-14.0zM1066.41 648.12h14.0v14.0h-14.0zM1072.60 648.42h14.0v14.0h-14.0zM1078.79 625.12h14.0v14.0h-14.0zM1084.98 648.02h14.0v14.0h-14.0zM1091.17 667.33h14.0v14.0h-14.0zM1097.36 644.18h14.0v14.0h-14.0z" fill="#000"/>
</g>
<path d="M286.90 581.0v-11.5M286.90 747.0v-11.5M472.62 581.0v-11.5M472.62 747.0v-11.5M658.35 581.0v-11.5M658.35 747.0v-11.5M844.08 581.0v-11.5M844.08 747.0v-11.5M1029.80 581.0v-11.5M1029.80 747.0v-11.5M214.2 115.85h10.3M214.2 248.95h10.3M214.2 382.05h10.3M214.2 515.15h10.3M214.2 664.0h10.3" stroke="#000" stroke-width="2" fill="none"/>
<path d="M214.2 747.4H1102.4" stroke="#000" stroke-opacity="0.73" stroke-width="3"/>
<path d="M212.7 84.05V748.9" stroke="#000" stroke-opacity="0.69" stroke-width="3"/>
<path d="M1104.05 84.05V748.9" stroke="#000" stroke-opacity="0.66" stroke-width="3.3"/>
<path d="M211.2 82.65H1105.7" stroke="#151515" stroke-width="2.8"/>
<path d="M214.2 581.0H1102.4" stroke="#111" stroke-width="2.2"/>
<path d="M214.2 747.4h10" stroke="#000" stroke-opacity="0.35" stroke-width="3"/>
<rect x="229.4" y="455.9" width="219.3" height="107.6" rx="5" ry="5" fill="#fff" fill-opacity="0.85" stroke="#c2c2c2" stroke-width="1.0"/>
<path d="M242.1 481.9H315.3" stroke="#d62728" stroke-width="3.2"/>
<path d="M279.1 513.4V547.8M273.9 513.4h10.4M273.9 547.8h10.4" stroke="#000" stroke-width="3.0" fill="none"/>
<rect x="272.1" y="523.3" width="14" height="14" fill="#000"/>
<text x="125.00" y="128.9" font-family="Liberation Serif, serif" font-size="35.2" fill="#383838" textLength="78.64" lengthAdjust="spacingAndGlyphs">1.002</text>
<text x="125.23" y="261.6" font-family="Liberation Serif, serif" font-size="35.2" fill="#383838" textLength="77.80" lengthAdjust="spacingAndGlyphs">1.000</text>
<text x="126.38" y="394.4" font-family="Liberation Serif, serif" font-size="35.2" fill="#383838" textLength="76.64" lengthAdjust="spacingAndGlyphs">0.998</text>
<text x="126.38" y="527.8" font-family="Liberation Serif, serif" font-size="35.2" fill="#383838" textLength="76.30" lengthAdjust="spacingAndGlyphs">0.996</text>
<text x="108.26" y="594" font-family="Liberation Serif, serif" font-size="35.2" fill="#383838" textLength="95.18" lengthAdjust="spacingAndGlyphs">0.0025</text>
<text x="108.26" y="675.8" font-family="Liberation Serif, serif" font-size="35.2" fill="#383838" textLength="95.18" lengthAdjust="spacingAndGlyphs">0.0000</text>
<text x="108.26" y="759.6" font-family="Liberation Serif, serif" font-size="35.2" fill="#383838" textLength="95.18" lengthAdjust="spacingAndGlyphs">0.0025</text>
<path d="M84.6 750.4H105.6" stroke="#8a8a8a" stroke-width="2.2"/>
<text x="249.55" y="781.1" font-family="Liberation Serif, serif" font-size="35.2" fill="#383838" textLength="72.59" lengthAdjust="spacingAndGlyphs">-10.0</text>
<text x="443.44" y="781.1" font-family="Liberation Serif, serif" font-size="35.2" fill="#383838" textLength="55.71" lengthAdjust="spacingAndGlyphs">-5.0</text>
<text x="636.97" y="781.1" font-family="Liberation Serif, serif" font-size="35.2" fill="#383838" textLength="42.86" lengthAdjust="spacingAndGlyphs">0.0</text>
<text x="821.99" y="781.1" font-family="Liberation Serif, serif" font-size="35.2" fill="#383838" textLength="44.07" lengthAdjust="spacingAndGlyphs">5.0</text>
<text x="997.95" y="781.1" font-family="Liberation Serif, serif" font-size="35.2" fill="#383838" textLength="61.20" lengthAdjust="spacingAndGlyphs">10.0</text>
<text x="484.53" y="68" font-family="Liberation Serif, serif" font-size="37.3" fill="#383838" textLength="22.78" lengthAdjust="spacingAndGlyphs">T</text>
<text x="507.44" y="73.1" font-family="Liberation Serif, serif" font-size="24.8" fill="#383838" textLength="12.61" lengthAdjust="spacingAndGlyphs">0</text>
<path d="M523.6 55.8H546.8M523.6 61.4H546.8" stroke="#555" stroke-width="1.6"/>
<text x="549.61" y="68" font-family="Liberation Serif, serif" font-size="37.3" fill="#383838" textLength="200.19" lengthAdjust="spacingAndGlyphs">2459209.2286</text>
<text x="763.23" y="68" font-family="Liberation Serif, serif" font-size="37.3" fill="#383838" textLength="68.72" lengthAdjust="spacingAndGlyphs">BJD</text>
<text x="485.65" y="823.8" font-family="Liberation Serif, serif" font-size="41.5" fill="#383838" textLength="92.45" lengthAdjust="spacingAndGlyphs">Time</text>
<text x="593.41" y="823.8" font-family="Liberation Serif, serif" font-size="41.5" fill="#383838" textLength="11.59" lengthAdjust="spacingAndGlyphs">(</text>
<text x="608.45" y="823.8" font-family="Liberation Serif, serif" font-size="41.5" fill="#383838" textLength="27.23" lengthAdjust="spacingAndGlyphs">T</text>
<text x="636.30" y="823.8" font-family="Liberation Serif, serif" font-size="41.5" fill="#383838" textLength="13.32" lengthAdjust="spacingAndGlyphs">-</text>
<text x="651.55" y="823.8" font-family="Liberation Serif, serif" font-size="41.5" fill="#383838" textLength="27.23" lengthAdjust="spacingAndGlyphs">T</text>
<text x="680.24" y="829.4" font-family="Liberation Serif, serif" font-size="28.7" fill="#383838" textLength="14.37" lengthAdjust="spacingAndGlyphs">0</text>
<text x="711.38" y="823.8" font-family="Liberation Serif, serif" font-size="41.5" fill="#383838" textLength="73.46" lengthAdjust="spacingAndGlyphs">[hrs]</text>
<text x="788.03" y="823.8" font-family="Liberation Serif, serif" font-size="41.5" fill="#383838" textLength="11.91" lengthAdjust="spacingAndGlyphs">)</text>
<text transform="translate(110.2 448) rotate(-90)" x="-0.72" y="0" font-family="Liberation Serif, serif" font-size="36.3" fill="#383838" textLength="234.48" lengthAdjust="spacingAndGlyphs">Normalised flux</text>
<text x="341.19" y="494.7" font-family="Liberation Serif, serif" font-size="36" fill="#383838" textLength="93.20" lengthAdjust="spacingAndGlyphs">Model</text>
<text x="345.17" y="543.6" font-family="Liberation Serif, serif" font-size="36.2" fill="#383838" textLength="84.22" lengthAdjust="spacingAndGlyphs" font-style="italic">TESS</text>
</svg>
</body></html>
